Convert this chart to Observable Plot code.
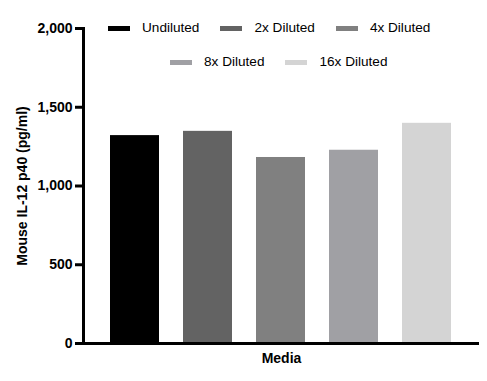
<!DOCTYPE html>
<html><head><meta charset="utf-8">
<script src="https://cdn.jsdelivr.net/npm/d3@7"></script>
<script src="https://cdn.jsdelivr.net/npm/@observablehq/plot@0.6"></script>
<style>
body{margin:0;background:#fff;font-family:"Liberation Sans",Arial,sans-serif;}
#wrap{position:relative;width:487px;height:381px;}
.row{position:absolute;display:flex;align-items:center;font-size:13.6px;line-height:16px;color:#000;white-space:nowrap;}
.item{display:flex;align-items:center;margin-right:21px;}
.sw{width:22px;height:5px;margin-right:12px;}
</style></head><body><div id="wrap"></div>
<script>
const group = "Media";
const series = ["Undiluted", "2x Diluted", "4x Diluted", "8x Diluted", "16x Diluted"];
const values = [1320, 1347, 1181, 1227, 1398];
const colors = ["#000000", "#636363", "#808080", "#a0a0a4", "#d4d4d4"];
const yTicks = [0, 500, 1000, 1500, 2000];
const legendRows = [[0, 1, 2], [3, 4]];
const yLabel = "Mouse IL-12 p40 (pg/ml)";

const data = series.map((s, i) => ({group, series: s, value: values[i]}));

const chart = Plot.plot({
  width: 487, height: 381,
  marginLeft: 83, marginRight: 8, marginTop: 28, marginBottom: 38,
  style: {fontFamily: "Liberation Sans, Arial, sans-serif", fontSize: "14px", fontWeight: "bold", color: "#000", background: "#fff"},
  fx: {domain: [group], padding: 0, label: null},
  x: {domain: series, paddingInner: 0.3356, paddingOuter: 0.352, align: 0.48, axis: null},
  y: {domain: [0, 2000]},
  color: {domain: series, range: colors},
  marks: [
    Plot.barY(data, {fx: "group", x: "series", y: "value", fill: "series"}),
    Plot.axisY({ticks: yTicks, tickFormat: d3.format(","), tickSize: 8, tickPadding: 3, strokeWidth: 3,
      label: yLabel, labelAnchor: "center", labelArrow: "none", labelOffset: 66}),
    Plot.axisFx({anchor: "bottom", tickSize: 0, tickPadding: 10, label: null}),
    Plot.frame({anchor: "left", strokeWidth: 3}),
    Plot.ruleY([0], {strokeWidth: 3})
  ]
});

const wrap = document.getElementById("wrap");
wrap.appendChild(chart);

const rowPos = [{left: 108, top: 20}, {left: 170, top: 54}];
legendRows.forEach((idxs, r) => {
  const row = document.createElement("div");
  row.className = "row";
  row.style.left = rowPos[r].left + "px";
  row.style.top = rowPos[r].top + "px";
  idxs.forEach(i => {
    const it = document.createElement("div");
    it.className = "item";
    const sw = document.createElement("span");
    sw.className = "sw";
    sw.style.background = colors[i];
    const tx = document.createElement("span");
    tx.textContent = series[i];
    it.appendChild(sw); it.appendChild(tx);
    row.appendChild(it);
  });
  wrap.appendChild(row);
});
</script></body></html>
